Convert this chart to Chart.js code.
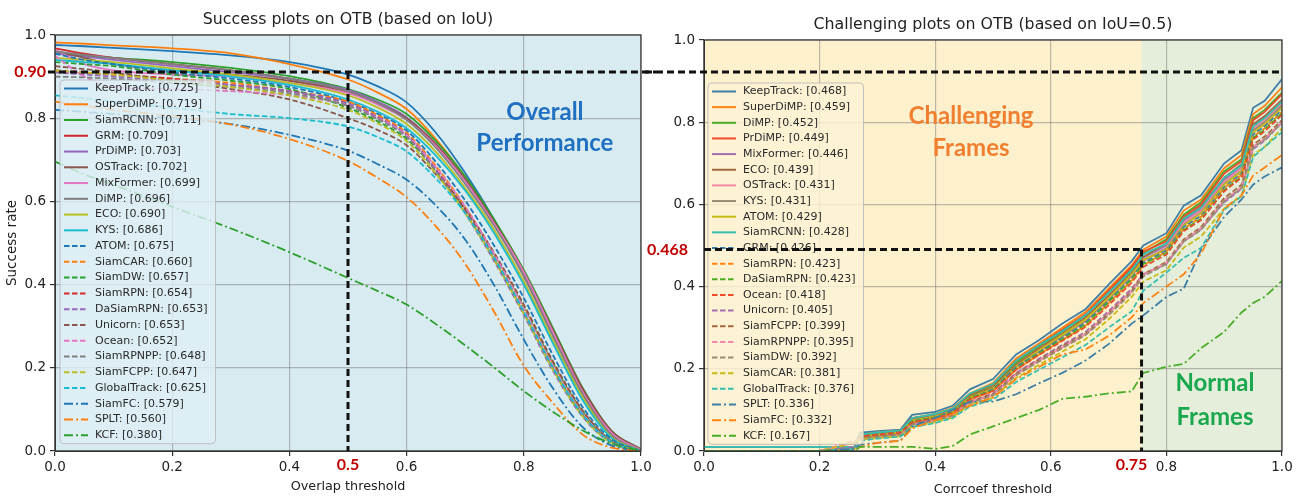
<!DOCTYPE html>
<html lang="en">
<head>
<meta charset="UTF-8">
<title>Success / Challenging plots on OTB</title>
<script src="https://cdn.jsdelivr.net/npm/chart.js"></script>
<style>
    body { margin: 0; background: #ffffff; }
    .wrap { position: relative; width: 1307px; height: 499px; overflow: hidden; }
    .wrap canvas { position: absolute; top: 0; }
    #iouChart { left: 0; }
    #corrChart { left: 645px; }
</style>
</head>
<body>
<div class="wrap">
    <canvas id="iouChart" width="656" height="499"></canvas>
    <canvas id="corrChart" width="662" height="499"></canvas>
</div>

<script>
// ---------- left: success plot (overlap threshold) ----------
const IOU_X = [0, 0.05, 0.1, 0.2, 0.3, 0.4, 0.5, 0.55, 0.6, 0.65, 0.7, 0.75, 0.8, 0.85, 0.9, 0.95, 1.0];
const iouTrackers = ['KeepTrack', 'SuperDiMP', 'SiamRCNN', 'GRM', 'PrDiMP', 'OSTrack', 'MixFormer', 'DiMP', 'ECO', 'KYS',
    'ATOM', 'SiamCAR', 'SiamDW', 'SiamRPN', 'DaSiamRPN', 'Unicorn', 'Ocean', 'SiamRPNPP', 'SiamFCPP', 'GlobalTrack',
    'SiamFC', 'SPLT', 'KCF'];
const iouScores = [0.725, 0.719, 0.711, 0.709, 0.703, 0.702, 0.699, 0.696, 0.690, 0.686,
    0.675, 0.660, 0.657, 0.654, 0.653, 0.653, 0.652, 0.648, 0.647, 0.625,
    0.579, 0.560, 0.380];

const iouKeepTrack   = [0.976, 0.973, 0.969, 0.961, 0.951, 0.935, 0.905, 0.877, 0.838, 0.765, 0.668, 0.555, 0.425, 0.278, 0.138, 0.038, 0.0];
const iouSuperDiMP   = [0.982, 0.979, 0.975, 0.968, 0.956, 0.930, 0.893, 0.862, 0.822, 0.750, 0.658, 0.550, 0.422, 0.280, 0.143, 0.041, 0.0];
const iouSiamRCNN    = [0.956, 0.950, 0.945, 0.935, 0.921, 0.901, 0.870, 0.845, 0.810, 0.745, 0.660, 0.555, 0.435, 0.295, 0.153, 0.048, 0.004];
const iouGRM         = [0.968, 0.955, 0.945, 0.930, 0.915, 0.895, 0.865, 0.838, 0.800, 0.737, 0.652, 0.548, 0.430, 0.288, 0.148, 0.043, 0.002];
const iouPrDiMP      = [0.955, 0.948, 0.940, 0.925, 0.911, 0.895, 0.868, 0.840, 0.802, 0.737, 0.652, 0.545, 0.422, 0.278, 0.138, 0.038, 0.0];
const iouOSTrack     = [0.962, 0.945, 0.930, 0.915, 0.905, 0.890, 0.862, 0.836, 0.800, 0.737, 0.652, 0.548, 0.430, 0.290, 0.151, 0.048, 0.004];
const iouMixFormer   = [0.965, 0.930, 0.915, 0.905, 0.900, 0.885, 0.860, 0.833, 0.796, 0.733, 0.648, 0.545, 0.430, 0.285, 0.143, 0.043, 0.002];
const iouDiMP        = [0.960, 0.952, 0.945, 0.930, 0.915, 0.895, 0.865, 0.837, 0.796, 0.729, 0.642, 0.540, 0.420, 0.275, 0.138, 0.038, 0.0];
const iouECO         = [0.945, 0.940, 0.935, 0.920, 0.905, 0.885, 0.855, 0.826, 0.786, 0.719, 0.632, 0.530, 0.408, 0.265, 0.130, 0.033, 0.0];
const iouKYS         = [0.940, 0.935, 0.930, 0.915, 0.900, 0.880, 0.845, 0.816, 0.776, 0.710, 0.626, 0.522, 0.400, 0.258, 0.123, 0.031, 0.0];
const iouATOM        = [0.955, 0.940, 0.930, 0.910, 0.895, 0.875, 0.840, 0.811, 0.770, 0.695, 0.602, 0.492, 0.368, 0.230, 0.106, 0.028, 0.0];
const iouSiamCAR     = [0.910, 0.908, 0.905, 0.895, 0.885, 0.865, 0.840, 0.808, 0.765, 0.685, 0.587, 0.473, 0.348, 0.210, 0.096, 0.023, 0.0];
const iouSiamDW      = [0.935, 0.930, 0.925, 0.905, 0.890, 0.870, 0.825, 0.793, 0.750, 0.675, 0.582, 0.470, 0.345, 0.210, 0.096, 0.023, 0.0];
const iouSiamRPN     = [0.915, 0.910, 0.905, 0.895, 0.880, 0.865, 0.835, 0.803, 0.760, 0.677, 0.577, 0.463, 0.335, 0.200, 0.088, 0.021, 0.0];
const iouDaSiamRPN   = [0.910, 0.905, 0.900, 0.890, 0.880, 0.865, 0.835, 0.803, 0.760, 0.675, 0.572, 0.455, 0.327, 0.192, 0.083, 0.019, 0.0];
const iouUnicorn     = [0.925, 0.918, 0.910, 0.890, 0.870, 0.845, 0.800, 0.772, 0.735, 0.665, 0.582, 0.475, 0.352, 0.215, 0.098, 0.023, 0.0];
const iouOcean       = [0.950, 0.900, 0.875, 0.870, 0.865, 0.855, 0.830, 0.800, 0.760, 0.682, 0.587, 0.472, 0.342, 0.205, 0.091, 0.021, 0.0];
const iouSiamRPNPP   = [0.900, 0.898, 0.895, 0.885, 0.875, 0.860, 0.830, 0.798, 0.755, 0.672, 0.572, 0.460, 0.332, 0.198, 0.088, 0.021, 0.0];
const iouSiamFCPP    = [0.915, 0.910, 0.905, 0.890, 0.875, 0.855, 0.820, 0.788, 0.745, 0.667, 0.572, 0.458, 0.330, 0.195, 0.084, 0.019, 0.0];
const iouGlobalTrack = [0.855, 0.848, 0.840, 0.825, 0.810, 0.800, 0.780, 0.755, 0.720, 0.655, 0.572, 0.463, 0.335, 0.200, 0.088, 0.021, 0.0];
const iouSiamFC      = [0.820, 0.815, 0.810, 0.800, 0.786, 0.760, 0.722, 0.690, 0.652, 0.590, 0.508, 0.397, 0.268, 0.150, 0.058, 0.013, 0.0];
const iouSPLT        = [0.840, 0.830, 0.820, 0.805, 0.785, 0.750, 0.697, 0.657, 0.610, 0.540, 0.450, 0.333, 0.205, 0.115, 0.040, 0.008, 0.0];
const iouKCF         = [0.696, 0.665, 0.640, 0.587, 0.535, 0.478, 0.416, 0.385, 0.352, 0.305, 0.254, 0.200, 0.144, 0.094, 0.050, 0.018, 0.0];

const iouCurves = [iouKeepTrack, iouSuperDiMP, iouSiamRCNN, iouGRM, iouPrDiMP, iouOSTrack, iouMixFormer, iouDiMP, iouECO, iouKYS,
    iouATOM, iouSiamCAR, iouSiamDW, iouSiamRPN, iouDaSiamRPN, iouUnicorn, iouOcean, iouSiamRPNPP, iouSiamFCPP, iouGlobalTrack,
    iouSiamFC, iouSPLT, iouKCF];

// ---------- right: challenging plot (corrcoef threshold) ----------
const CORR_X = [0, 0.2, 0.26, 0.27, 0.3, 0.34, 0.36, 0.4, 0.43, 0.46, 0.5, 0.54, 0.58, 0.62, 0.66, 0.7, 0.74, 0.76, 0.8, 0.83, 0.86, 0.9, 0.93, 0.95, 0.97, 1.0];
const corrTrackers = ['KeepTrack', 'SuperDiMP', 'DiMP', 'PrDiMP', 'MixFormer', 'ECO', 'OSTrack', 'KYS', 'ATOM', 'SiamRCNN',
    'GRM', 'SiamRPN', 'DaSiamRPN', 'Ocean', 'Unicorn', 'SiamFCPP', 'SiamRPNPP', 'SiamDW', 'SiamCAR', 'GlobalTrack',
    'SPLT', 'SiamFC', 'KCF'];
const corrScores = [0.468, 0.459, 0.452, 0.449, 0.446, 0.439, 0.431, 0.431, 0.429, 0.428,
    0.426, 0.423, 0.423, 0.418, 0.405, 0.399, 0.395, 0.392, 0.381, 0.376,
    0.336, 0.332, 0.167];

const corrKeepTrack   = [0.01, 0.01, 0.01, 0.045, 0.048, 0.052, 0.088, 0.095, 0.11, 0.15, 0.175, 0.235, 0.27, 0.31, 0.345, 0.405, 0.462, 0.5, 0.53, 0.597, 0.622, 0.70, 0.732, 0.835, 0.852, 0.905];
const corrSuperDiMP   = [0, 0, 0.005, 0.04, 0.045, 0.05, 0.08, 0.09, 0.105, 0.14, 0.165, 0.225, 0.262, 0.3, 0.338, 0.395, 0.452, 0.49, 0.522, 0.585, 0.612, 0.688, 0.72, 0.82, 0.84, 0.885];
const corrDiMP        = [0, 0, 0.005, 0.038, 0.042, 0.048, 0.078, 0.088, 0.1, 0.135, 0.16, 0.215, 0.255, 0.29, 0.33, 0.385, 0.445, 0.482, 0.515, 0.575, 0.605, 0.68, 0.71, 0.81, 0.83, 0.872];
const corrPrDiMP      = [0, 0, 0.005, 0.04, 0.044, 0.05, 0.08, 0.088, 0.102, 0.138, 0.162, 0.22, 0.258, 0.295, 0.332, 0.39, 0.448, 0.485, 0.51, 0.57, 0.6, 0.675, 0.705, 0.805, 0.825, 0.868];
const corrMixFormer   = [0, 0, 0.01, 0.035, 0.04, 0.045, 0.072, 0.082, 0.095, 0.13, 0.152, 0.208, 0.245, 0.282, 0.32, 0.372, 0.43, 0.47, 0.5, 0.56, 0.588, 0.66, 0.69, 0.79, 0.81, 0.85];
const corrECO         = [0, 0, 0.005, 0.036, 0.04, 0.046, 0.075, 0.085, 0.097, 0.132, 0.155, 0.21, 0.25, 0.285, 0.325, 0.378, 0.435, 0.472, 0.505, 0.565, 0.595, 0.665, 0.698, 0.795, 0.815, 0.855];
const corrOSTrack     = [0, 0, 0.02, 0.03, 0.035, 0.04, 0.07, 0.08, 0.092, 0.128, 0.15, 0.205, 0.242, 0.278, 0.315, 0.368, 0.425, 0.462, 0.495, 0.555, 0.585, 0.655, 0.688, 0.785, 0.805, 0.845];
const corrKYS         = [0, 0, 0.005, 0.034, 0.038, 0.044, 0.072, 0.082, 0.094, 0.128, 0.15, 0.205, 0.243, 0.28, 0.318, 0.37, 0.428, 0.465, 0.492, 0.55, 0.58, 0.65, 0.682, 0.78, 0.8, 0.84];
const corrATOM        = [0, 0, 0.005, 0.035, 0.04, 0.045, 0.074, 0.084, 0.096, 0.13, 0.152, 0.206, 0.245, 0.282, 0.32, 0.372, 0.43, 0.465, 0.49, 0.548, 0.578, 0.648, 0.68, 0.775, 0.795, 0.835];
const corrSiamRCNN    = [0.01, 0.01, 0.01, 0.04, 0.045, 0.05, 0.08, 0.09, 0.103, 0.14, 0.163, 0.22, 0.258, 0.292, 0.33, 0.385, 0.44, 0.478, 0.505, 0.565, 0.592, 0.665, 0.695, 0.79, 0.81, 0.85];
const corrGRM         = [0, 0, 0.005, 0.035, 0.04, 0.045, 0.072, 0.082, 0.093, 0.128, 0.15, 0.204, 0.24, 0.275, 0.312, 0.365, 0.42, 0.458, 0.488, 0.545, 0.572, 0.642, 0.675, 0.77, 0.79, 0.83];
const corrSiamRPN     = [0, 0, 0.02, 0.03, 0.035, 0.04, 0.068, 0.078, 0.09, 0.125, 0.145, 0.198, 0.235, 0.27, 0.305, 0.36, 0.415, 0.452, 0.485, 0.54, 0.57, 0.64, 0.672, 0.765, 0.785, 0.825];
const corrDaSiamRPN   = [0, 0, 0.005, 0.034, 0.04, 0.045, 0.072, 0.082, 0.094, 0.128, 0.148, 0.2, 0.238, 0.272, 0.308, 0.362, 0.418, 0.455, 0.482, 0.538, 0.565, 0.635, 0.668, 0.762, 0.782, 0.822];
const corrOcean       = [0, 0, 0.005, 0.035, 0.04, 0.045, 0.07, 0.08, 0.092, 0.126, 0.146, 0.198, 0.234, 0.268, 0.302, 0.355, 0.41, 0.448, 0.478, 0.535, 0.562, 0.632, 0.665, 0.758, 0.778, 0.818];
const corrUnicorn     = [0, 0, 0.01, 0.03, 0.035, 0.04, 0.065, 0.075, 0.087, 0.12, 0.14, 0.19, 0.225, 0.258, 0.29, 0.34, 0.395, 0.43, 0.455, 0.51, 0.54, 0.605, 0.638, 0.735, 0.755, 0.8];
const corrSiamFCPP    = [0, 0, 0.005, 0.03, 0.035, 0.04, 0.066, 0.076, 0.088, 0.12, 0.138, 0.188, 0.222, 0.255, 0.285, 0.335, 0.39, 0.43, 0.46, 0.515, 0.545, 0.615, 0.648, 0.745, 0.765, 0.805];
const corrSiamRPNPP   = [0, 0, 0.025, 0.028, 0.032, 0.038, 0.064, 0.074, 0.086, 0.118, 0.136, 0.186, 0.22, 0.252, 0.284, 0.334, 0.388, 0.428, 0.458, 0.512, 0.542, 0.61, 0.642, 0.74, 0.76, 0.8];
const corrSiamDW      = [0, 0, 0.005, 0.03, 0.034, 0.038, 0.064, 0.074, 0.085, 0.116, 0.135, 0.184, 0.218, 0.25, 0.282, 0.33, 0.385, 0.425, 0.455, 0.51, 0.538, 0.608, 0.64, 0.738, 0.758, 0.798];
const corrSiamCAR     = [0, 0, 0.02, 0.028, 0.032, 0.036, 0.06, 0.07, 0.082, 0.112, 0.13, 0.178, 0.21, 0.242, 0.272, 0.32, 0.375, 0.412, 0.44, 0.495, 0.522, 0.59, 0.622, 0.72, 0.74, 0.785];
const corrGlobalTrack = [0, 0, 0.005, 0.025, 0.03, 0.035, 0.058, 0.068, 0.08, 0.108, 0.125, 0.168, 0.198, 0.228, 0.258, 0.3, 0.34, 0.39, 0.434, 0.47, 0.494, 0.587, 0.62, 0.715, 0.74, 0.776];
const corrSPLT        = [0, 0, 0.005, 0.015, 0.02, 0.025, 0.06, 0.08, 0.1, 0.12, 0.12, 0.138, 0.165, 0.19, 0.22, 0.26, 0.31, 0.33, 0.375, 0.395, 0.49, 0.57, 0.612, 0.648, 0.668, 0.69];
const corrSiamFC      = [0, 0, 0, 0.01, 0.02, 0.025, 0.055, 0.075, 0.09, 0.11, 0.13, 0.175, 0.205, 0.235, 0.247, 0.28, 0.325, 0.36, 0.4, 0.43, 0.48, 0.59, 0.622, 0.67, 0.69, 0.72];
const corrKCF         = [0, 0, 0, 0.01, 0.01, 0.01, 0.01, 0.005, 0.012, 0.04, 0.06, 0.08, 0.1, 0.127, 0.132, 0.14, 0.145, 0.19, 0.205, 0.212, 0.25, 0.29, 0.337, 0.36, 0.375, 0.414];

const corrCurves = [corrKeepTrack, corrSuperDiMP, corrDiMP, corrPrDiMP, corrMixFormer, corrECO, corrOSTrack, corrKYS, corrATOM, corrSiamRCNN,
    corrGRM, corrSiamRPN, corrDaSiamRPN, corrOcean, corrUnicorn, corrSiamFCPP, corrSiamRPNPP, corrSiamDW, corrSiamCAR, corrGlobalTrack,
    corrSPLT, corrSiamFC, corrKCF];

// palettes (solid / dashed / dash-dot groups reuse the same 10 colours)
const PAL_LEFT = ['#1f77b4', '#ff7f0e', '#2ca02c', '#d62728', '#9467bd', '#8c564b', '#e377c2', '#7f7f7f', '#bcbd22', '#17becf'];
const PAL_RIGHT = ['#3f7fa6', '#ff8412', '#4aad2a', '#ec4a2a', '#a270ad', '#a4683f', '#f08aa8', '#988a72', '#c9bb16', '#36bfae'];

const FONT = '"DejaVu Sans", sans-serif';

function drawLegend(chart, lg) {
    const ctx = chart.ctx, a = chart.chartArea;
    const sets = chart.data.datasets;
    ctx.save();
    ctx.font = '11px ' + FONT;
    const textW = Math.max(...sets.map(s => ctx.measureText(s.label).width));
    const left = a.left + lg.dx, top = a.top + lg.dy;
    const w = 35 + textW + 8, h = 17 + (sets.length - 1) * lg.row;
    ctx.beginPath();
    ctx.roundRect(left, top, w, h, 4);
    ctx.fillStyle = lg.fill;
    ctx.fill();
    ctx.strokeStyle = 'rgba(185,185,185,0.85)';
    ctx.lineWidth = 1;
    ctx.stroke();
    sets.forEach((s, i) => {
        const yy = top + 8.5 + i * lg.row;
        ctx.beginPath();
        ctx.setLineDash(s.borderDash);
        ctx.strokeStyle = s.borderColor;
        ctx.lineWidth = 2;
        ctx.moveTo(left + 4, yy);
        ctx.lineTo(left + 28, yy);
        ctx.stroke();
        ctx.setLineDash([]);
        ctx.fillStyle = '#2a2a2a';
        ctx.textAlign = 'left';
        ctx.textBaseline = 'middle';
        ctx.fillText(s.label, left + 35, yy);
    });
    ctx.restore();
}

const decor = {
    id: 'decor',
    beforeDraw(chart, args, o) {
        const { ctx, chartArea: a } = chart;
        ctx.save();
        ctx.fillStyle = o.bg;
        ctx.fillRect(a.left, a.top, a.width, a.height);
        if (o.bg2) {
            const xs = chart.scales.x.getPixelForValue(o.bg2From);
            ctx.fillStyle = o.bg2;
            ctx.fillRect(xs, a.top, a.right - xs, a.height);
        }
        ctx.restore();
    },
    afterDatasetsDraw(chart, args, o) {
        const { ctx, chartArea: a } = chart;
        const px = v => chart.scales.x.getPixelForValue(v);
        const py = v => chart.scales.y.getPixelForValue(v);
        ctx.save();
        // axes frame
        ctx.strokeStyle = '#333';
        ctx.lineWidth = 1.2;
        ctx.strokeRect(a.left, a.top, a.width, a.height);

        drawLegend(chart, o.legend);

        // black dashed guide lines
        ctx.strokeStyle = '#111';
        ctx.lineWidth = 3;
        ctx.setLineDash([7, 4]);
        o.guides.forEach(g => {
            const x0 = g.x0 === 'edge' ? 0 : px(g.x0);
            const x1 = g.x1 === 'edge' ? chart.width : px(g.x1);
            ctx.beginPath();
            ctx.moveTo(x0, py(g.y0));
            ctx.lineTo(x1, py(g.y1));
            ctx.stroke();
        });
        ctx.setLineDash([]);

        // red value labels
        ctx.font = 'bold 16px Lato, sans-serif';
        ctx.fillStyle = '#c00000';
        ctx.textBaseline = 'middle';
        o.marks.forEach(m => {
            ctx.textAlign = m.align;
            ctx.fillText(m.text, px(m.x) + m.dx, py(m.y) + m.dy);
        });

        // big coloured annotations
        ctx.font = 'bold 24px Lato, sans-serif';
        ctx.textAlign = 'center';
        o.notes.forEach(n => {
            ctx.fillStyle = n.color;
            ctx.fillText(n.text, px(n.x), py(n.y));
        });

        // title and axis titles
        ctx.fillStyle = '#222';
        ctx.font = '15.8px ' + FONT;
        ctx.fillText(o.title, (a.left + a.right) / 2, o.titleY);
        ctx.font = '12.8px ' + FONT;
        ctx.fillText(o.xTitle, (a.left + a.right) / 2, a.bottom + o.xTitleDy);
        if (o.yTitle) {
            ctx.font = '13.5px ' + FONT;
            ctx.translate(12, (a.top + a.bottom) / 2);
            ctx.rotate(-Math.PI / 2);
            ctx.fillText(o.yTitle, 0, 0);
        }
        ctx.restore();
    }
};

function buildChart(id, c) {
    return new Chart(document.getElementById(id), {
        type: 'line',
        data: {
            datasets: c.names.map((n, i) => ({
                label: n + ': [' + c.scores[i].toFixed(3) + ']',
                data: c.curves[i].map((v, j) => ({ x: c.xs[j], y: v })),
                borderColor: c.palette[i % 10],
                borderDash: i < 10 ? [] : (i < 20 ? [5.5, 2.5] : [9, 3, 2, 3]),
                borderWidth: 1.8,
                pointRadius: 0,
                fill: false,
                tension: 0,
                cubicInterpolationMode: c.smooth ? 'monotone' : 'default',
                order: c.names.length - i
            }))
        },
        options: {
            responsive: false,
            animation: false,
            events: [],
            layout: { padding: { left: 0, right: c.padRight, top: c.padTop, bottom: 0 } },
            plugins: { legend: { display: false }, tooltip: { enabled: false }, decor: c.decor },
            scales: {
                x: {
                    type: 'linear', min: 0, max: 1,
                    grid: { color: 'rgba(110,110,110,0.45)', lineWidth: 1.2, tickLength: 5, tickColor: '#333' },
                    border: { color: '#333' },
                    ticks: { stepSize: 0.2, maxRotation: 0, padding: 3, color: '#222', font: { family: FONT, size: 13.5 },
                        callback: v => v.toFixed(1) },
                    afterFit: s => { s.height = 48; }
                },
                y: {
                    min: 0, max: 1,
                    grid: { color: 'rgba(110,110,110,0.45)', lineWidth: 1.2, tickLength: 5, tickColor: '#333' },
                    border: { color: '#333' },
                    ticks: { stepSize: 0.2, padding: 4, color: '#222', font: { family: FONT, size: 13.5 },
                        callback: v => v.toFixed(1) },
                    afterFit: s => { s.width = c.yWidth; }
                }
            }
        },
        plugins: [decor]
    });
}

buildChart('iouChart', {
    xs: IOU_X, names: iouTrackers, scores: iouScores, curves: iouCurves, palette: PAL_LEFT,
    smooth: true, padRight: 15, padTop: 35, yWidth: 55,
    decor: {
        bg: '#d8ebf1',
        title: 'Success plots on OTB (based on IoU)', titleY: 20,
        xTitle: 'Overlap threshold', xTitleDy: 36, yTitle: 'Success rate',
        legend: { dx: 5, dy: 45, row: 15.76, fill: 'rgba(222,239,245,0.8)' },
        guides: [
            { x0: -0.012, x1: 'edge', y0: 0.911, y1: 0.911 },
            { x0: 0.5, x1: 0.5, y0: 0.911, y1: 0 }
        ],
        marks: [
            { text: '0.90', x: 0, y: 0.911, dx: -9, dy: 0, align: 'right' },
            { text: '0.5', x: 0.5, y: 0, dx: 0, dy: 14, align: 'center' }
        ],
        notes: [
            { text: 'Overall', x: 0.836, y: 0.815, color: '#1f70c1' },
            { text: 'Performance', x: 0.836, y: 0.74, color: '#1f70c1' }
        ]
    }
});

buildChart('corrChart', {
    xs: CORR_X, names: corrTrackers, scores: corrScores, curves: corrCurves, palette: PAL_RIGHT,
    smooth: false, padRight: 25, padTop: 40, yWidth: 59,
    decor: {
        bg: '#fdf0cd', bg2: '#e5eedb', bg2From: 0.757,
        title: 'Challenging plots on OTB (based on IoU=0.5)', titleY: 25,
        xTitle: 'Corrcoef threshold', xTitleDy: 39, yTitle: null,
        legend: { dx: 4, dy: 43, row: 15.65, fill: 'rgba(253,243,214,0.8)' },
        guides: [
            { x0: 'edge', x1: 1, y0: 0.922, y1: 0.922 },
            { x0: 0, x1: 0.757, y0: 0.49, y1: 0.49 },
            { x0: 0.757, x1: 0.757, y0: 0.49, y1: 0 }
        ],
        marks: [
            { text: '0.468', x: 0, y: 0.49, dx: -16, dy: 0, align: 'right' },
            { text: '0.75', x: 0.757, y: 0, dx: -10, dy: 14, align: 'center' }
        ],
        notes: [
            { text: 'Challenging', x: 0.462, y: 0.815, color: '#f07f30' },
            { text: 'Frames', x: 0.462, y: 0.737, color: '#f07f30' },
            { text: 'Normal', x: 0.884, y: 0.165, color: '#1aa84f' },
            { text: 'Frames', x: 0.884, y: 0.083, color: '#1aa84f' }
        ]
    }
});
</script>
</body>
</html>
